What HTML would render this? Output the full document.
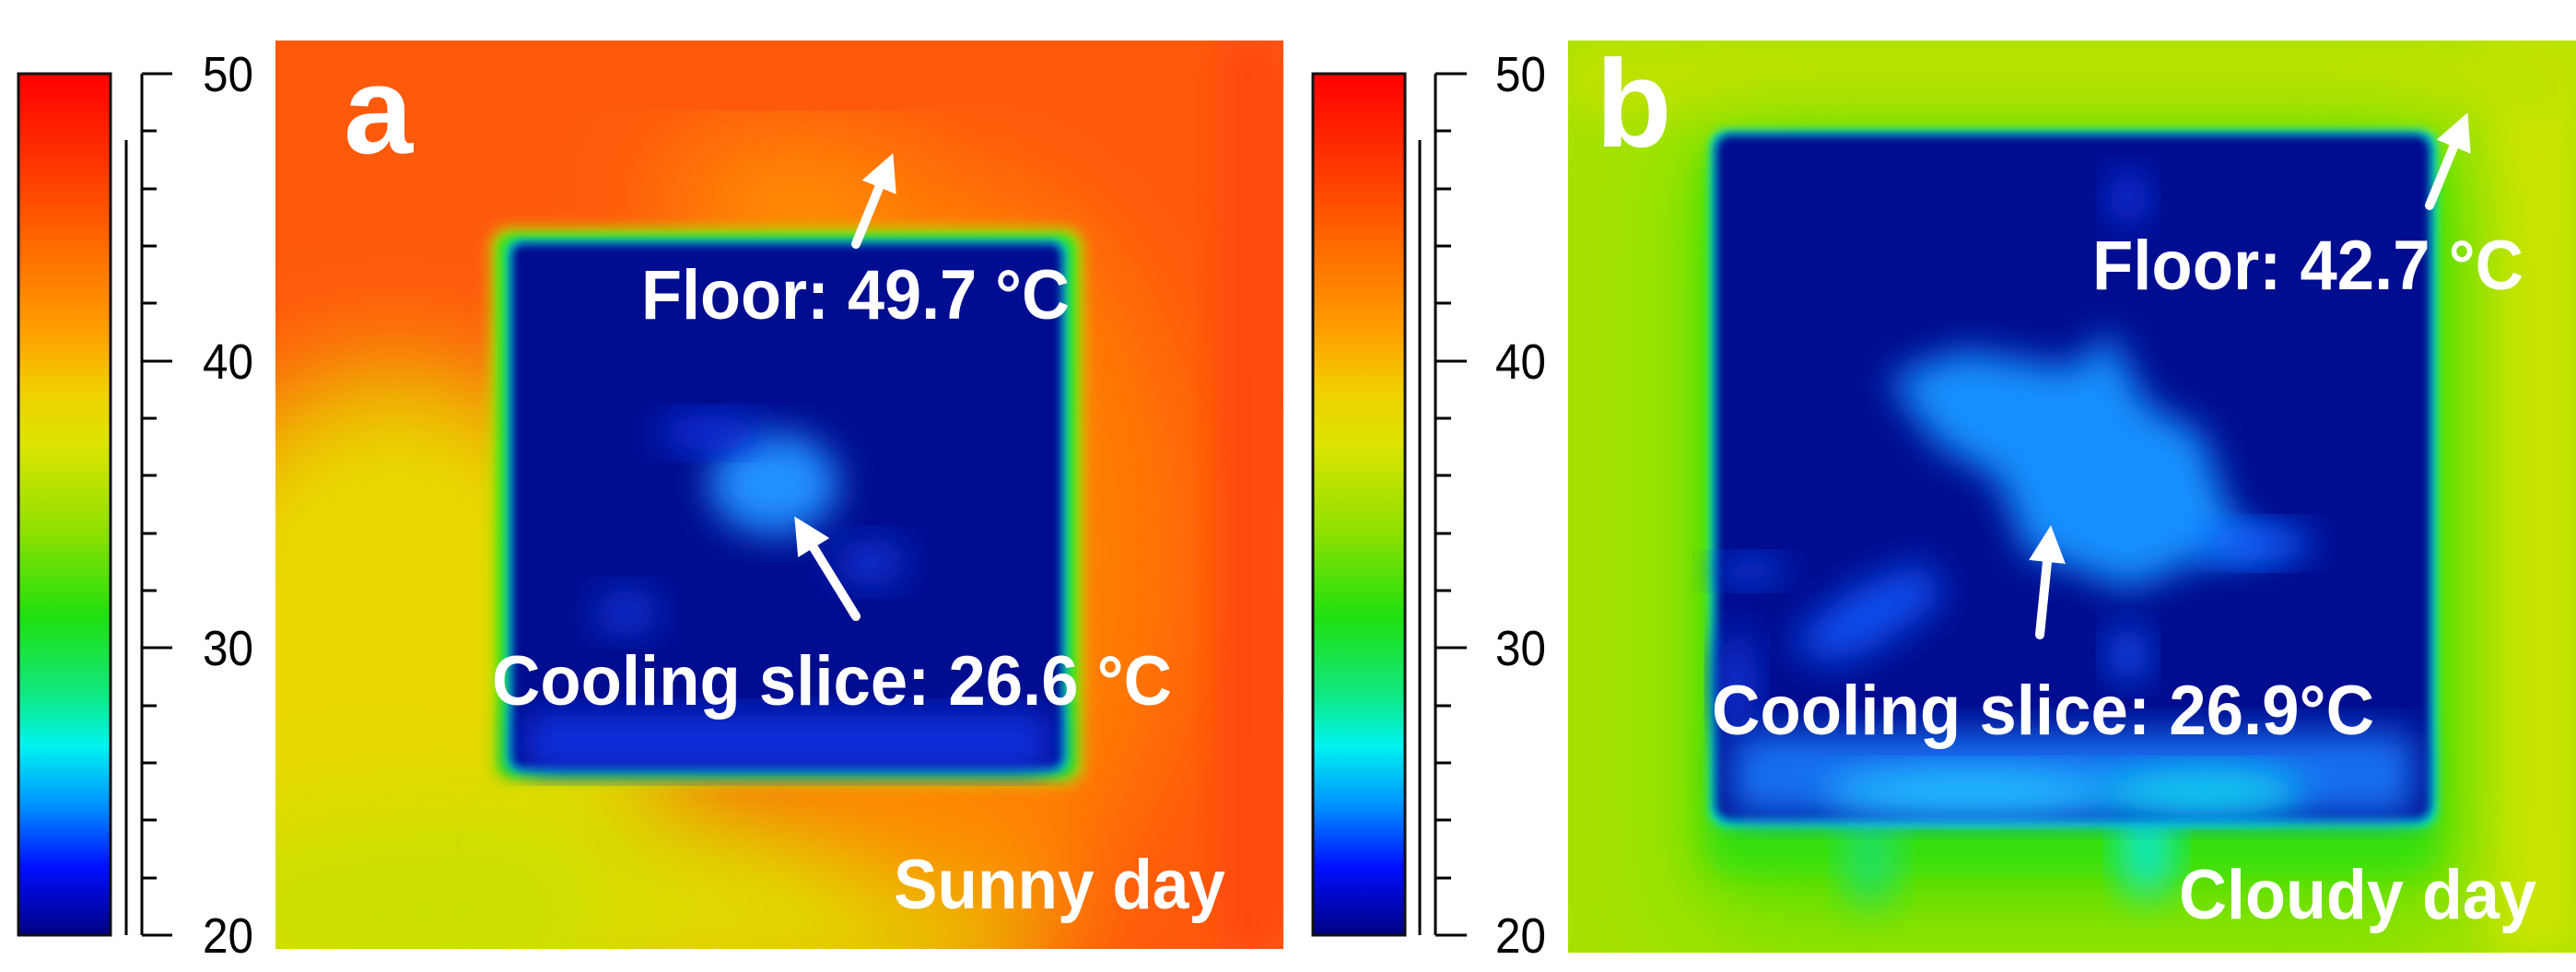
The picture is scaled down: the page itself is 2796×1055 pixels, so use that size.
<!DOCTYPE html>
<html><head><meta charset="utf-8"><style>
html,body{margin:0;padding:0;background:#fff;width:2796px;height:1055px;overflow:hidden;position:relative;}
svg{display:block;position:absolute;left:0;top:0;}
.lbl{font-family:"Liberation Sans Narrow","Liberation Sans",sans-serif;font-size:54px;fill:#000;}
.w{font-family:"Liberation Sans Narrow","Liberation Sans",sans-serif;font-weight:bold;fill:#fff;}
.big{font-family:"Liberation Sans",sans-serif;font-weight:bold;fill:#fff;}
</style></head><body>
<svg width="2796" height="1055" viewBox="0 0 2796 1055" xmlns="http://www.w3.org/2000/svg" overflow="hidden">
<defs>
<linearGradient id="jet" x1="0" y1="0" x2="0" y2="1">
<stop offset="0" stop-color="#ff0000"/>
<stop offset="0.1" stop-color="#ff3300"/>
<stop offset="0.2" stop-color="#ff6a00"/>
<stop offset="0.3" stop-color="#ffa000"/>
<stop offset="0.37" stop-color="#f0d000"/>
<stop offset="0.43" stop-color="#dce400"/>
<stop offset="0.53" stop-color="#90e000"/>
<stop offset="0.63" stop-color="#20e010"/>
<stop offset="0.72" stop-color="#10e880"/>
<stop offset="0.78" stop-color="#00f4f0"/>
<stop offset="0.85" stop-color="#0090ff"/>
<stop offset="0.92" stop-color="#0010ff"/>
<stop offset="1" stop-color="#000080"/>
</linearGradient>
<filter id="b5" x="-20%" y="-20%" width="140%" height="140%"><feGaussianBlur stdDeviation="5"/></filter>
<filter id="b8" x="-20%" y="-20%" width="140%" height="140%"><feGaussianBlur stdDeviation="8"/></filter>
<filter id="b20" x="-30%" y="-30%" width="160%" height="160%"><feGaussianBlur stdDeviation="20"/></filter>
<filter id="b60" x="-50%" y="-50%" width="200%" height="200%"><feGaussianBlur stdDeviation="60"/></filter>
<clipPath id="ca"><rect x="299" y="44" width="1094" height="986"/></clipPath>
<clipPath id="cb"><rect x="1702" y="44" width="1094" height="990"/></clipPath>
<marker id="ah" markerWidth="4" markerHeight="4" refX="1" refY="2" orient="auto" markerUnits="strokeWidth"><path d="M0,0 L4,2 L0,4 z" fill="#fff"/></marker>
</defs>

<rect x="20" y="80" width="100" height="935" fill="url(#jet)" stroke="#111" stroke-width="3"/>
<line x1="137" y1="152" x2="137" y2="1015" stroke="#000" stroke-width="3"/>
<g stroke="#000" stroke-width="3">
<line x1="154" y1="80" x2="154" y2="1015"/>
<line x1="154" y1="80" x2="187" y2="80"/><line x1="154" y1="142" x2="170" y2="142"/><line x1="154" y1="205" x2="170" y2="205"/><line x1="154" y1="267" x2="170" y2="267"/><line x1="154" y1="329" x2="170" y2="329"/>
<line x1="154" y1="392" x2="187" y2="392"/><line x1="154" y1="454" x2="170" y2="454"/><line x1="154" y1="516" x2="170" y2="516"/><line x1="154" y1="579" x2="170" y2="579"/><line x1="154" y1="641" x2="170" y2="641"/>
<line x1="154" y1="703" x2="187" y2="703"/><line x1="154" y1="766" x2="170" y2="766"/><line x1="154" y1="828" x2="170" y2="828"/><line x1="154" y1="890" x2="170" y2="890"/><line x1="154" y1="953" x2="170" y2="953"/>
<line x1="154" y1="1015" x2="187" y2="1015"/>
</g>
<text class="lbl" x="220" y="99" textLength="55" lengthAdjust="spacingAndGlyphs">50</text><text class="lbl" x="220" y="411" textLength="55" lengthAdjust="spacingAndGlyphs">40</text><text class="lbl" x="220" y="722" textLength="55" lengthAdjust="spacingAndGlyphs">30</text><text class="lbl" x="220" y="1034" textLength="55" lengthAdjust="spacingAndGlyphs">20</text>

<rect x="1425" y="80" width="100" height="935" fill="url(#jet)" stroke="#111" stroke-width="3"/>
<line x1="1541" y1="152" x2="1541" y2="1015" stroke="#000" stroke-width="3"/>
<g stroke="#000" stroke-width="3">
<line x1="1558" y1="80" x2="1558" y2="1015"/>
<line x1="1558" y1="80" x2="1592" y2="80"/><line x1="1558" y1="142" x2="1575" y2="142"/><line x1="1558" y1="205" x2="1575" y2="205"/><line x1="1558" y1="267" x2="1575" y2="267"/><line x1="1558" y1="329" x2="1575" y2="329"/>
<line x1="1558" y1="392" x2="1592" y2="392"/><line x1="1558" y1="454" x2="1575" y2="454"/><line x1="1558" y1="516" x2="1575" y2="516"/><line x1="1558" y1="579" x2="1575" y2="579"/><line x1="1558" y1="641" x2="1575" y2="641"/>
<line x1="1558" y1="703" x2="1592" y2="703"/><line x1="1558" y1="766" x2="1575" y2="766"/><line x1="1558" y1="828" x2="1575" y2="828"/><line x1="1558" y1="890" x2="1575" y2="890"/><line x1="1558" y1="953" x2="1575" y2="953"/>
<line x1="1558" y1="1015" x2="1592" y2="1015"/>
</g>
<text class="lbl" x="1623" y="99" textLength="55" lengthAdjust="spacingAndGlyphs">50</text><text class="lbl" x="1623" y="411" textLength="55" lengthAdjust="spacingAndGlyphs">40</text><text class="lbl" x="1623" y="722" textLength="55" lengthAdjust="spacingAndGlyphs">30</text><text class="lbl" x="1623" y="1034" textLength="55" lengthAdjust="spacingAndGlyphs">20</text>

<g clip-path="url(#ca)">
<rect x="299" y="44" width="1094" height="986" fill="#ff5a0c"/>
<ellipse cx="430" cy="820" rx="300" ry="420" fill="#e8d800" filter="url(#b60)"/>
<ellipse cx="500" cy="990" rx="320" ry="110" fill="#c8e000" filter="url(#b60)"/>
<ellipse cx="880" cy="990" rx="260" ry="110" fill="#e0dc00" filter="url(#b60)"/>
<ellipse cx="1050" cy="600" rx="230" ry="400" fill="#ff8a00" filter="url(#b60)" opacity="0.8"/>
<ellipse cx="860" cy="220" rx="140" ry="50" fill="#ffa800" filter="url(#b60)"/>
<rect x="1320" y="44" width="80" height="986" fill="#ff4a10" filter="url(#b20)"/>
<rect x="533" y="248" width="642" height="602" rx="18" fill="#b0e000" filter="url(#b8)"/>
<rect x="540" y="254" width="628" height="590" rx="16" fill="#30e020" filter="url(#b5)"/>
<rect x="550" y="260" width="608" height="578" rx="14" fill="#00e0e0" filter="url(#b5)"/>
<rect x="555" y="264" width="598" height="570" rx="12" fill="#000890" filter="url(#b5)"/>
<rect x="570" y="775" width="570" height="60" fill="#1030e0" filter="url(#b20)"/>
<ellipse cx="840" cy="525" rx="70" ry="55" fill="#2090ff" filter="url(#b20)"/>
<ellipse cx="770" cy="470" rx="55" ry="20" fill="#1030e0" filter="url(#b20)"/>
<ellipse cx="680" cy="665" rx="35" ry="25" fill="#1030d0" filter="url(#b20)"/>
<ellipse cx="945" cy="610" rx="40" ry="25" fill="#1030d0" filter="url(#b20)"/>
</g>
<text class="big" x="373" y="166" font-size="135">a</text>
<text class="w" x="696" y="346" font-size="76" textLength="465" lengthAdjust="spacingAndGlyphs">Floor: 49.7 °C</text>
<text class="w" x="534" y="765" font-size="76" textLength="738" lengthAdjust="spacingAndGlyphs">Cooling slice: 26.6 °C</text>
<text class="w" x="970" y="986" font-size="76" textLength="360" lengthAdjust="spacingAndGlyphs">Sunny day</text>
<line x1="929" y1="265" x2="958" y2="194" stroke="#fff" stroke-width="10" stroke-linecap="round" marker-end="url(#ah)"/>
<line x1="929" y1="669" x2="878" y2="586" stroke="#fff" stroke-width="10" stroke-linecap="round" marker-end="url(#ah)"/>

<g clip-path="url(#cb)">
<rect x="1702" y="44" width="1094" height="990" fill="#a6e200"/>
<rect x="2700" y="44" width="100" height="990" fill="#cce400" filter="url(#b20)"/>
<rect x="1702" y="44" width="1094" height="80" fill="#c0e200" filter="url(#b20)"/>
<rect x="1840" y="150" width="820" height="860" rx="60" fill="#60e000" filter="url(#b60)"/>
<rect x="1850" y="160" width="800" height="790" rx="30" fill="#30e010" filter="url(#b20)"/>
<ellipse cx="2030" cy="930" rx="30" ry="55" fill="#20e060" filter="url(#b20)"/>
<ellipse cx="2330" cy="920" rx="30" ry="55" fill="#10e8c0" filter="url(#b20)"/>
<rect x="1856" y="141" width="789" height="756" rx="18" fill="#00e8d0" filter="url(#b5)"/>
<rect x="1862" y="146" width="776" height="744" rx="16" fill="#000890" filter="url(#b5)"/>
<rect x="1880" y="795" width="740" height="90" fill="#1870f0" filter="url(#b20)"/>
<ellipse cx="2140" cy="860" rx="160" ry="25" fill="#20c0ff" filter="url(#b20)"/>
<ellipse cx="2390" cy="860" rx="110" ry="25" fill="#10d0f0" filter="url(#b20)"/>
<path d="M2050,410 L2130,380 L2250,400 L2290,360 L2330,440 L2390,470 L2420,560 L2470,600 L2380,610 L2310,640 L2260,620 L2200,600 L2170,520 L2100,480 Z" fill="#1890ff" filter="url(#b20)"/>
<ellipse cx="2450" cy="590" rx="60" ry="20" fill="#1060ff" filter="url(#b20)"/>
<path d="M1940,700 L2010,640 L2090,610 L2110,650 L2040,700 L1990,720 Z" fill="#1050f0" filter="url(#b20)"/>
<ellipse cx="2310" cy="710" rx="22" ry="30" fill="#1050f0" filter="url(#b20)"/>
<ellipse cx="2310" cy="215" rx="22" ry="30" fill="#0830e0" filter="url(#b20)"/>
<ellipse cx="1900" cy="620" rx="40" ry="15" fill="#1040e0" filter="url(#b20)"/>
<ellipse cx="1885" cy="740" rx="22" ry="60" fill="#0830d0" filter="url(#b20)"/>
</g>
<text class="big" x="1732" y="159" font-size="135">b</text>
<text class="w" x="2271" y="314" font-size="76" textLength="468" lengthAdjust="spacingAndGlyphs">Floor: 42.7 °C</text>
<text class="w" x="1858" y="797" font-size="76" textLength="719" lengthAdjust="spacingAndGlyphs">Cooling slice: 26.9°C</text>
<text class="w" x="2365" y="997" font-size="76" textLength="388" lengthAdjust="spacingAndGlyphs">Cloudy day</text>
<line x1="2637" y1="223" x2="2667" y2="150" stroke="#fff" stroke-width="10" stroke-linecap="round" marker-end="url(#ah)"/>
<line x1="2214" y1="689" x2="2223" y2="600" stroke="#fff" stroke-width="10" stroke-linecap="round" marker-end="url(#ah)"/>
</svg>
</body></html>
